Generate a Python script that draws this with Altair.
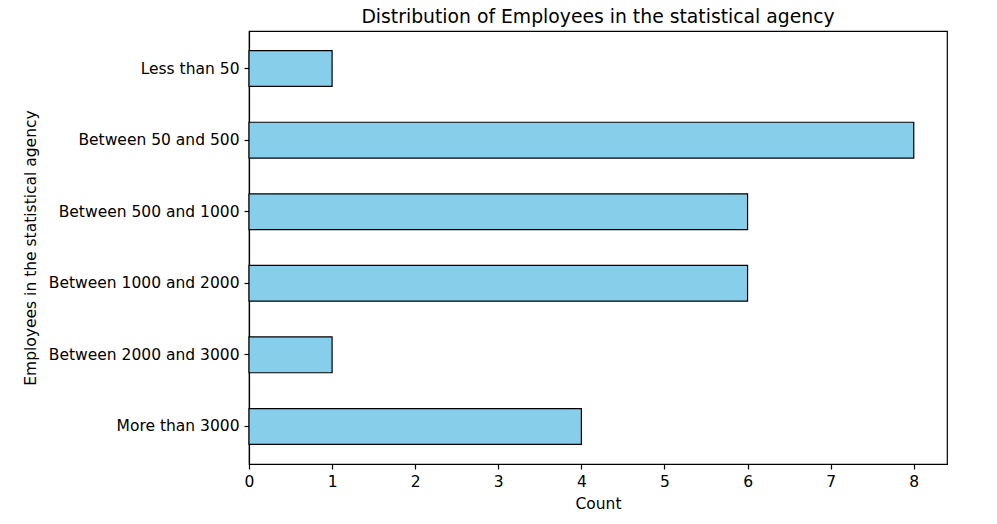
import altair as alt
import pandas as pd

categories = ["Less than 50", "Between 50 and 500", "Between 500 and 1000",
              "Between 1000 and 2000", "Between 2000 and 3000", "More than 3000"]
counts = [1, 8, 6, 6, 1, 4]

df = pd.DataFrame({"category": categories, "count": counts})

FONT = "DejaVu Sans"
FS = 15.5

chart = alt.Chart(df).mark_bar(
    color="#87CEEB", stroke="black", strokeWidth=1.2
).encode(
    x=alt.X("count:Q", title="Count",
            scale=alt.Scale(domain=[0, 8.4], nice=False, zero=True),
            axis=alt.Axis(values=list(range(0, 9)), format="d", grid=False,
                          tickSize=5, labelPadding=5, titlePadding=7,
                          labelFlush=False, domainWidth=1.2, tickWidth=1.2,
                          domainColor="black", tickColor="black",
                          labelColor="black", titleColor="black",
                          labelFont=FONT, titleFont=FONT,
                          labelFontSize=FS, titleFontSize=FS,
                          titleFontWeight="normal")),
    y=alt.Y("category:N", title="Employees in the statistical agency",
            sort=categories,
            scale=alt.Scale(paddingInner=0.5, paddingOuter=0.275),
            axis=alt.Axis(grid=False, tickSize=5, labelPadding=5, titlePadding=11,
                          labelLimit=400, domainWidth=1.2, tickWidth=1.2,
                          domainColor="black", tickColor="black",
                          labelColor="black", titleColor="black",
                          labelFont=FONT, titleFont=FONT,
                          labelFontSize=FS, titleFontSize=FS,
                          titleFontWeight="normal")),
).properties(
    width=698,
    height=433,
    background="white",
    title=alt.TitleParams("Distribution of Employees in the statistical agency",
                          font=FONT, fontSize=18.8, fontWeight="normal",
                          color="black", offset=4, anchor="middle"),
    autosize=alt.AutoSizeParams(type="none"),
    padding={"left": 241, "top": 23, "right": 40, "bottom": 50},
).configure_view(
    stroke="black", strokeWidth=1.2
)

chart.save("out.html", embed_options={"renderer": "svg", "actions": False})
